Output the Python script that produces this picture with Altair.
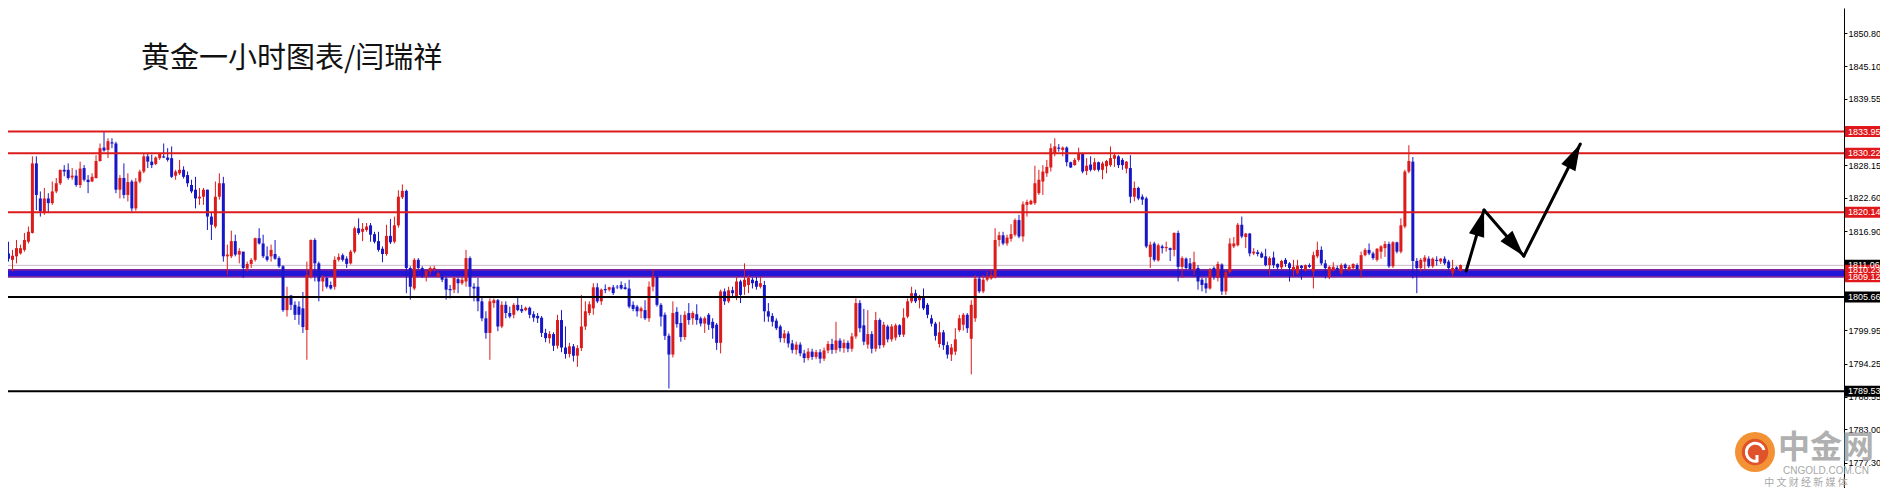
import math
import altair as alt
import pandas as pd

# ---------------- data ----------------
OPEN = [
    1813.1, 1812.0, 1812.6, 1813.1, 1813.7, 1815.1, 1816.6, 1828.5, 1822.5, 1820.0,
    1822.5, 1821.7, 1823.7, 1825.1, 1827.4, 1827.4, 1826.1, 1826.4, 1824.8, 1827.7,
    1825.7, 1825.4, 1826.0, 1828.9, 1831.2, 1830.8, 1832.1, 1831.9, 1824.0, 1826.0,
    1823.1, 1825.4, 1820.8, 1825.4, 1827.1, 1829.7, 1828.8, 1828.4, 1829.4, 1829.7,
    1829.5, 1829.4, 1826.4, 1826.8, 1827.4, 1826.5, 1824.8, 1824.0, 1822.5, 1822.8,
    1824.0, 1819.4, 1817.7, 1822.8, 1825.1, 1812.6, 1812.6, 1815.2, 1812.9, 1813.4,
    1810.5, 1811.3, 1812.0, 1815.7, 1814.8, 1812.6, 1812.6, 1813.0, 1812.3, 1810.9,
    1803.4, 1805.9, 1804.3, 1804.0, 1803.7, 1800.0, 1809.1, 1815.4, 1811.4, 1808.3,
    1808.9, 1807.7, 1807.4, 1812.0, 1812.8, 1812.2, 1811.4, 1813.4, 1817.4, 1816.8,
    1817.1, 1817.9, 1816.4, 1815.2, 1813.9, 1813.0, 1816.1, 1815.1, 1817.9, 1822.7,
    1823.8, 1810.6, 1807.1, 1812.0, 1810.6, 1809.1, 1810.0, 1810.4, 1809.1, 1809.1,
    1808.8, 1807.0, 1806.9, 1808.7, 1808.0, 1808.3, 1812.3, 1807.4, 1807.4, 1804.9,
    1802.0, 1799.5, 1804.6, 1805.1, 1800.6, 1804.3, 1802.9, 1802.6, 1804.3, 1803.6,
    1803.4, 1803.8, 1802.7, 1802.4, 1802.1, 1799.5, 1798.6, 1799.3, 1797.3, 1801.7,
    1797.0, 1795.9, 1797.2, 1795.6, 1796.9, 1800.6, 1802.9, 1803.7, 1807.3, 1804.9,
    1807.0, 1806.9, 1807.3, 1807.4, 1807.7, 1807.3, 1807.1, 1804.3, 1804.0, 1803.2,
    1803.4, 1802.0, 1807.4, 1809.1, 1804.3, 1802.6, 1799.0, 1795.8, 1803.1, 1801.2,
    1798.8, 1802.9, 1802.0, 1802.7, 1802.0, 1801.1, 1802.6, 1801.4, 1800.9, 1797.8,
    1806.6, 1804.9, 1806.8, 1805.7, 1808.3, 1807.4, 1807.7, 1808.6, 1808.4, 1807.4,
    1807.7, 1803.2, 1802.4, 1801.6, 1800.6, 1798.6, 1799.4, 1797.7, 1796.6, 1797.5,
    1796.0, 1795.2, 1796.3, 1795.4, 1796.2, 1795.1, 1796.5, 1797.6, 1796.6, 1798.2,
    1796.9, 1797.8, 1796.8, 1798.9, 1804.6, 1800.8, 1797.5, 1799.3, 1796.8, 1801.7,
    1797.4, 1800.6, 1798.4, 1798.7, 1800.8, 1799.2, 1802.3, 1804.9, 1806.3, 1805.1,
    1805.7, 1804.3, 1802.0, 1801.1, 1797.6, 1799.6, 1797.4, 1795.8, 1796.3, 1800.0,
    1800.9, 1802.6, 1798.5, 1802.0, 1808.8, 1806.6, 1808.6, 1808.8, 1809.1, 1815.4,
    1816.2, 1814.8, 1815.6, 1816.3, 1818.8, 1816.0, 1821.4, 1821.5, 1821.7, 1823.4,
    1825.4, 1826.8, 1827.8, 1830.2, 1831.2, 1830.8, 1831.2, 1828.7, 1828.2, 1829.1,
    1830.1, 1827.2, 1828.3, 1827.4, 1828.7, 1827.4, 1828.0, 1828.2, 1829.3, 1829.7,
    1829.1, 1827.6, 1827.7, 1822.8, 1824.3, 1822.8, 1822.5, 1812.5, 1814.8, 1811.9,
    1814.3, 1814.0, 1814.0, 1813.7, 1816.6, 1810.8, 1812.2, 1811.4, 1810.3, 1810.6,
    1808.6, 1808.0, 1807.1, 1810.6, 1808.9, 1811.2, 1806.6, 1809.9, 1814.3, 1814.5,
    1818.0, 1815.9, 1816.5, 1813.1, 1813.3, 1813.1, 1812.6, 1811.1, 1812.4, 1811.3,
    1810.7, 1812.0, 1811.4, 1810.3, 1809.7, 1811.0, 1810.3, 1811.1, 1810.0, 1812.6,
    1813.7, 1811.4, 1809.1, 1810.3, 1810.6, 1809.7, 1811.2, 1810.3, 1810.6, 1811.1,
    1810.3, 1812.8, 1813.7, 1813.1, 1812.0, 1813.4, 1814.0, 1814.7, 1810.9, 1815.0,
    1813.4, 1817.7, 1827.1, 1828.8, 1811.8, 1810.6, 1811.7, 1812.2, 1810.9, 1812.0,
    1811.7, 1812.2, 1811.7, 1809.7, 1810.7, 1810.1,
]
HIGH = [
    1815.1, 1813.7, 1815.4, 1814.6, 1816.6, 1817.7, 1829.7, 1829.7, 1823.7, 1824.3,
    1823.4, 1825.4, 1826.0, 1827.4, 1828.2, 1828.5, 1827.7, 1827.4, 1828.8, 1828.2,
    1826.5, 1826.8, 1829.9, 1831.9, 1833.9, 1832.8, 1832.8, 1832.2, 1826.5, 1828.5,
    1826.8, 1825.7, 1826.0, 1827.4, 1830.2, 1830.2, 1830.0, 1829.7, 1830.2, 1831.9,
    1831.1, 1831.4, 1827.4, 1829.1, 1828.0, 1827.1, 1825.7, 1826.2, 1824.3, 1824.3,
    1824.0, 1820.2, 1825.4, 1826.8, 1826.2, 1814.6, 1817.0, 1816.3, 1814.0, 1813.4,
    1811.7, 1812.3, 1815.8, 1817.4, 1816.3, 1814.3, 1814.6, 1815.4, 1812.6, 1811.1,
    1807.4, 1806.0, 1804.9, 1804.9, 1806.5, 1811.7, 1815.5, 1815.7, 1811.7, 1809.4,
    1809.1, 1808.3, 1812.6, 1813.1, 1813.1, 1812.6, 1813.7, 1817.7, 1819.1, 1818.3,
    1818.3, 1818.3, 1816.8, 1816.8, 1814.3, 1818.0, 1819.0, 1819.4, 1823.9, 1824.9,
    1824.0, 1810.9, 1812.3, 1812.3, 1810.9, 1810.3, 1810.9, 1811.0, 1810.0, 1809.5,
    1809.1, 1807.7, 1809.1, 1809.0, 1809.1, 1813.7, 1812.6, 1808.0, 1808.9, 1805.7,
    1803.2, 1805.4, 1805.4, 1805.3, 1804.9, 1804.9, 1804.0, 1804.6, 1805.7, 1804.3,
    1804.0, 1804.0, 1803.2, 1802.9, 1802.4, 1800.2, 1799.8, 1799.6, 1802.6, 1803.4,
    1800.6, 1797.8, 1797.6, 1797.4, 1806.0, 1804.9, 1804.9, 1808.0, 1808.0, 1807.1,
    1807.8, 1807.4, 1807.7, 1807.7, 1808.3, 1808.0, 1808.6, 1804.9, 1804.3, 1804.0,
    1805.1, 1808.3, 1810.3, 1809.4, 1804.6, 1803.0, 1799.4, 1804.9, 1803.9, 1802.6,
    1803.2, 1804.6, 1803.2, 1804.4, 1802.3, 1802.3, 1802.9, 1802.0, 1801.2, 1806.9,
    1807.1, 1807.4, 1807.4, 1809.1, 1808.6, 1811.4, 1809.4, 1809.0, 1809.1, 1809.1,
    1808.4, 1804.6, 1802.9, 1802.0, 1800.9, 1800.0, 1799.8, 1798.3, 1798.0, 1797.9,
    1796.6, 1796.9, 1796.8, 1796.6, 1796.7, 1797.0, 1798.1, 1798.5, 1801.4, 1798.6,
    1798.4, 1798.2, 1799.5, 1805.4, 1805.1, 1803.6, 1803.4, 1799.8, 1803.1, 1802.0,
    1801.4, 1800.9, 1801.0, 1801.1, 1801.0, 1803.7, 1805.4, 1807.4, 1806.9, 1806.0,
    1807.1, 1804.6, 1802.6, 1801.4, 1801.4, 1800.0, 1798.0, 1797.6, 1800.3, 1802.6,
    1802.9, 1802.9, 1805.1, 1809.4, 1809.1, 1809.4, 1810.0, 1810.3, 1817.4, 1816.8,
    1816.8, 1816.3, 1818.1, 1819.1, 1819.7, 1822.0, 1822.3, 1822.3, 1828.1, 1827.4,
    1828.2, 1829.1, 1831.9, 1832.8, 1831.8, 1831.4, 1831.4, 1828.8, 1829.4, 1831.2,
    1830.2, 1829.4, 1829.7, 1829.4, 1828.8, 1828.8, 1829.1, 1831.4, 1830.2, 1829.9,
    1829.4, 1828.9, 1829.9, 1825.4, 1824.5, 1823.2, 1822.8, 1815.1, 1815.1, 1814.8,
    1814.6, 1815.1, 1814.1, 1816.7, 1817.0, 1812.6, 1812.4, 1812.3, 1813.4, 1811.1,
    1808.9, 1808.9, 1810.6, 1810.9, 1811.7, 1811.4, 1810.3, 1815.7, 1815.9, 1818.3,
    1819.4, 1816.6, 1816.6, 1814.0, 1813.7, 1813.4, 1813.9, 1812.6, 1813.4, 1811.4,
    1812.0, 1812.3, 1811.6, 1812.0, 1812.0, 1811.1, 1811.2, 1811.4, 1813.4, 1815.1,
    1814.3, 1812.0, 1811.0, 1811.6, 1811.0, 1811.4, 1811.4, 1811.1, 1811.4, 1811.4,
    1813.4, 1814.0, 1814.8, 1813.4, 1814.0, 1814.5, 1815.2, 1815.1, 1815.2, 1815.1,
    1819.1, 1827.4, 1831.6, 1829.6, 1812.3, 1812.3, 1812.8, 1812.6, 1812.4, 1812.6,
    1812.3, 1812.6, 1812.0, 1812.0, 1810.9, 1811.2,
]
LOW = [
    1811.7, 1810.0, 1811.4, 1812.9, 1813.4, 1814.8, 1816.5, 1820.5, 1819.4, 1819.7,
    1820.0, 1821.4, 1823.4, 1824.8, 1826.3, 1825.7, 1825.7, 1824.5, 1824.3, 1825.4,
    1823.4, 1825.3, 1825.9, 1828.8, 1830.5, 1829.4, 1831.1, 1823.4, 1822.5, 1822.5,
    1822.0, 1820.3, 1820.4, 1825.1, 1826.8, 1827.7, 1827.7, 1828.2, 1829.1, 1829.4,
    1828.8, 1826.0, 1825.7, 1826.5, 1825.9, 1824.5, 1823.4, 1820.8, 1821.4, 1821.4,
    1817.1, 1815.4, 1817.4, 1822.3, 1811.7, 1809.4, 1812.3, 1812.6, 1811.4, 1808.9,
    1810.0, 1810.6, 1811.7, 1814.6, 1812.3, 1811.7, 1811.7, 1812.0, 1810.6, 1803.1,
    1802.3, 1803.4, 1801.7, 1800.9, 1799.5, 1794.9, 1808.8, 1808.3, 1804.9, 1806.6,
    1807.1, 1806.9, 1806.9, 1811.7, 1811.7, 1810.6, 1811.2, 1813.1, 1816.3, 1815.2,
    1816.8, 1815.1, 1814.8, 1813.4, 1811.6, 1812.7, 1814.7, 1814.8, 1817.5, 1822.4,
    1806.3, 1805.2, 1806.8, 1810.3, 1808.9, 1808.3, 1809.4, 1810.0, 1809.0, 1808.2,
    1805.2, 1805.4, 1806.3, 1806.3, 1807.7, 1807.4, 1805.7, 1804.9, 1803.2, 1801.5,
    1798.5, 1794.9, 1803.8, 1799.8, 1800.3, 1802.0, 1802.0, 1802.0, 1803.2, 1802.9,
    1803.2, 1802.0, 1801.4, 1801.2, 1798.8, 1797.9, 1797.7, 1796.4, 1796.8, 1796.2,
    1795.1, 1795.3, 1794.6, 1793.7, 1796.4, 1800.0, 1802.5, 1802.6, 1804.6, 1804.3,
    1806.3, 1806.6, 1806.0, 1807.0, 1806.9, 1806.9, 1803.7, 1803.2, 1802.3, 1802.0,
    1801.7, 1801.4, 1806.6, 1804.0, 1800.6, 1798.3, 1790.0, 1795.3, 1800.4, 1798.0,
    1798.3, 1800.9, 1800.9, 1800.9, 1800.6, 1799.5, 1800.0, 1798.5, 1796.6, 1796.0,
    1804.3, 1804.6, 1805.7, 1805.1, 1804.6, 1806.0, 1806.3, 1807.1, 1806.9, 1807.1,
    1801.4, 1801.4, 1800.6, 1800.0, 1797.9, 1797.8, 1797.0, 1796.0, 1795.8, 1795.5,
    1794.4, 1794.8, 1794.9, 1795.0, 1794.3, 1794.7, 1796.0, 1795.9, 1796.0, 1796.3,
    1796.1, 1796.2, 1796.3, 1798.5, 1799.6, 1797.4, 1796.8, 1796.0, 1796.3, 1796.8,
    1797.0, 1797.9, 1798.0, 1798.2, 1798.8, 1798.8, 1802.0, 1804.6, 1804.6, 1803.7,
    1803.4, 1802.0, 1800.6, 1798.2, 1797.0, 1796.6, 1795.1, 1794.7, 1795.7, 1799.7,
    1799.9, 1799.5, 1792.4, 1801.4, 1806.3, 1806.3, 1808.3, 1808.6, 1808.8, 1814.3,
    1814.5, 1814.4, 1815.1, 1816.0, 1815.7, 1815.1, 1819.4, 1821.4, 1821.4, 1823.1,
    1823.1, 1826.2, 1827.1, 1829.7, 1830.5, 1829.7, 1828.0, 1827.7, 1828.1, 1828.8,
    1826.8, 1826.5, 1827.1, 1827.2, 1827.1, 1825.8, 1826.8, 1827.9, 1827.9, 1827.7,
    1827.4, 1826.8, 1821.7, 1822.0, 1822.2, 1821.4, 1814.0, 1810.6, 1811.7, 1811.7,
    1813.1, 1813.4, 1811.8, 1812.6, 1808.3, 1808.9, 1810.3, 1810.3, 1809.4, 1806.9,
    1806.6, 1806.3, 1806.9, 1808.6, 1808.3, 1806.0, 1806.0, 1809.6, 1814.0, 1814.3,
    1815.7, 1814.0, 1812.6, 1812.8, 1812.6, 1812.3, 1810.9, 1809.4, 1810.6, 1810.3,
    1810.3, 1810.8, 1808.3, 1809.1, 1809.4, 1808.6, 1810.0, 1810.6, 1807.1, 1812.3,
    1811.1, 1808.8, 1808.7, 1810.0, 1809.9, 1809.4, 1810.3, 1810.0, 1810.3, 1810.0,
    1808.9, 1812.6, 1812.8, 1812.0, 1811.7, 1812.2, 1812.5, 1810.6, 1810.6, 1813.1,
    1813.1, 1817.4, 1826.8, 1808.8, 1806.3, 1810.0, 1810.3, 1810.6, 1810.6, 1811.0,
    1811.3, 1811.1, 1810.3, 1809.1, 1810.0, 1810.0,
]
CLOSE = [
    1812.2, 1812.7, 1814.0, 1814.0, 1815.4, 1816.8, 1828.5, 1823.1, 1820.3, 1822.5,
    1821.7, 1823.7, 1825.1, 1827.4, 1827.1, 1826.0, 1826.4, 1824.8, 1827.6, 1825.7,
    1825.3, 1826.2, 1828.9, 1831.1, 1830.7, 1832.3, 1831.9, 1824.0, 1826.0, 1823.1,
    1825.3, 1820.8, 1825.4, 1827.1, 1829.7, 1828.8, 1828.2, 1829.5, 1830.1, 1829.5,
    1829.1, 1826.2, 1827.1, 1827.4, 1826.2, 1825.1, 1823.7, 1822.5, 1822.8, 1824.0,
    1819.4, 1818.0, 1822.8, 1825.1, 1812.6, 1812.9, 1815.2, 1812.9, 1813.5, 1810.6,
    1811.3, 1812.0, 1815.7, 1814.8, 1812.6, 1812.0, 1813.7, 1812.2, 1810.9, 1803.4,
    1805.7, 1804.3, 1802.6, 1802.6, 1800.5, 1809.4, 1815.4, 1811.4, 1808.3, 1808.9,
    1807.4, 1807.1, 1812.0, 1812.5, 1812.0, 1811.3, 1813.4, 1817.4, 1816.6, 1817.3,
    1817.7, 1816.3, 1815.1, 1813.7, 1813.0, 1816.1, 1815.0, 1817.9, 1822.8, 1823.8,
    1810.6, 1807.4, 1812.0, 1810.6, 1810.0, 1810.1, 1810.6, 1810.6, 1809.7, 1808.6,
    1806.9, 1806.8, 1808.9, 1808.0, 1808.6, 1812.3, 1807.4, 1807.1, 1804.9, 1802.0,
    1799.5, 1804.9, 1805.1, 1800.6, 1804.3, 1802.9, 1802.3, 1804.3, 1803.4, 1803.2,
    1803.8, 1802.6, 1802.1, 1802.0, 1799.5, 1798.6, 1799.3, 1797.3, 1801.7, 1797.0,
    1795.9, 1797.2, 1795.6, 1796.9, 1800.6, 1803.2, 1804.4, 1807.3, 1804.9, 1806.9,
    1806.8, 1807.3, 1806.3, 1807.3, 1807.1, 1807.0, 1804.0, 1803.6, 1803.2, 1803.7,
    1802.0, 1807.4, 1809.1, 1804.3, 1802.3, 1799.0, 1795.8, 1802.9, 1801.0, 1798.8,
    1802.6, 1801.7, 1802.9, 1801.7, 1801.1, 1802.0, 1800.9, 1800.3, 1797.8, 1806.6,
    1804.9, 1806.8, 1806.3, 1808.3, 1806.0, 1808.6, 1808.9, 1808.0, 1807.4, 1808.0,
    1803.2, 1802.3, 1801.4, 1800.3, 1798.6, 1799.4, 1797.7, 1796.6, 1797.5, 1796.0,
    1795.2, 1796.3, 1795.4, 1796.2, 1795.1, 1796.5, 1797.6, 1796.6, 1798.2, 1796.9,
    1797.8, 1796.8, 1798.9, 1804.6, 1800.3, 1798.0, 1799.3, 1796.8, 1801.7, 1797.4,
    1800.9, 1798.4, 1800.6, 1800.8, 1799.2, 1802.1, 1804.9, 1806.3, 1804.9, 1805.7,
    1803.7, 1802.6, 1801.1, 1799.0, 1799.6, 1797.4, 1795.8, 1797.0, 1798.4, 1802.0,
    1802.6, 1800.3, 1804.3, 1808.8, 1806.6, 1808.6, 1809.1, 1809.4, 1815.4, 1816.2,
    1814.8, 1815.8, 1816.4, 1818.8, 1816.0, 1821.5, 1821.9, 1822.1, 1825.1, 1825.7,
    1827.1, 1827.9, 1831.1, 1831.4, 1831.0, 1831.2, 1828.7, 1827.8, 1829.1, 1830.2,
    1827.1, 1828.1, 1827.4, 1828.7, 1827.4, 1828.5, 1828.9, 1829.4, 1829.9, 1828.2,
    1828.2, 1828.8, 1822.8, 1824.3, 1822.5, 1822.3, 1814.3, 1814.6, 1812.0, 1814.5,
    1814.0, 1814.2, 1813.7, 1816.6, 1810.8, 1812.3, 1810.6, 1810.4, 1811.6, 1808.3,
    1807.7, 1807.1, 1810.3, 1810.0, 1811.3, 1806.6, 1809.9, 1814.8, 1814.8, 1818.0,
    1816.0, 1816.5, 1813.1, 1813.4, 1813.0, 1812.4, 1811.1, 1812.3, 1811.1, 1810.7,
    1811.8, 1811.3, 1810.6, 1810.8, 1811.0, 1810.6, 1811.1, 1810.8, 1812.8, 1813.7,
    1811.4, 1810.6, 1810.8, 1810.8, 1810.3, 1811.1, 1810.6, 1810.8, 1811.3, 1810.4,
    1812.8, 1813.7, 1813.1, 1812.3, 1813.9, 1814.3, 1814.7, 1810.9, 1815.0, 1813.4,
    1817.9, 1827.1, 1828.9, 1811.8, 1810.6, 1812.0, 1812.4, 1810.9, 1812.2, 1811.8,
    1812.2, 1811.4, 1810.6, 1810.6, 1810.4, 1811.1,
]

RESIST_LEVELS = [1833.95, 1830.22, 1820.14]
SUPPORT_LEVELS = [1805.66, 1789.53]
BAND_EDGES = [1808.95, 1810.45]
BAND_CORE = [1809.25, 1810.15]
THIN_LEVEL = 1811.06
AXIS_TICKS = [1856.50, 1850.80, 1845.10, 1839.55, 1833.85, 1828.15, 1822.60, 1816.90,
              1811.20, 1805.50, 1799.95, 1794.25, 1788.55, 1783.00, 1777.30, 1771.60]
TAG_VALUES = [1811.06, 1809.12, 1810.23, 1833.95, 1830.22, 1820.14, 1805.66, 1789.53]
TAG_KIND = ["black", "red", "red", "red", "red", "red", "black", "black"]
ARROW_X = [366.4, 370.9, 380.9, 395.1]
ARROW_Y = [1810.09, 1820.52, 1812.65, 1831.81]
TITLE = "黄金一小时图表/闫瑞祥"
LOGO = ["中金网", "CNGOLD.COM.CN", "中  文  财  经  新  媒  体"]

# ---------------- styling ----------------
RED = "#dc1b1b"
BLUE = "#1717c8"
W, H = 1836, 480
XD = [1.125, 1.125 + W / 4.0]
YD = [1772.97, 1855.08]
xs = alt.Scale(domain=XD, nice=False, zero=False)
ys = alt.Scale(domain=YD, nice=False, zero=False)

n = len(OPEN)
assert len(HIGH) == n and len(LOW) == n and len(CLOSE) == n, (len(OPEN), len(HIGH), len(LOW), len(CLOSE))
candles = pd.DataFrame({
    "i": list(range(n)), "open": OPEN, "high": HIGH, "low": LOW, "close": CLOSE,
})
candles["dir"] = ["up" if c >= o else "down" for o, c in zip(OPEN, CLOSE)]
col = alt.Color("dir:N", scale=alt.Scale(domain=["up", "down"], range=[RED, BLUE]), legend=None)

yaxis = alt.Axis(orient="right", values=AXIS_TICKS, format=".2f", grid=False, title=None,
                 domainColor="black", domainWidth=1, tickColor="black", tickSize=3,
                 labelColor="black", labelFont="Liberation Sans", labelFontSize=9,
                 labelPadding=1, labelOverlap=False, labelFlush=False)


def Y(field):
    return alt.Y(field, scale=ys, axis=yaxis)


def X(field):
    return alt.X(field, scale=xs, axis=None)


wicks = alt.Chart(candles).mark_rule(strokeWidth=1, clip=True).encode(
    x=X("i:Q"), y=Y("low:Q"), y2="high:Q", color=col)
bodies = alt.Chart(candles).mark_bar(size=3, clip=True).encode(
    x=X("i:Q"), y=Y("open:Q"), y2="close:Q", color=col)

band_df = pd.DataFrame({"lo": [BAND_EDGES[0], BAND_CORE[0]], "hi": [BAND_EDGES[1], BAND_CORE[1]],
                        "c": ["#7a22a0", "#2416d6"]})
band = alt.Chart(band_df).mark_rect().encode(
    x=alt.value(0), x2=alt.value(W),
    y=Y("lo:Q"), y2="hi:Q",
    color=alt.Color("c:N", scale=None),
)
thin = alt.Chart(pd.DataFrame({"p": [THIN_LEVEL]})).mark_rule(strokeWidth=1, color="#cbbccb").encode(
    x=alt.value(0), x2=alt.value(W), y=Y("p:Q"))

lv_df = pd.DataFrame({"p": RESIST_LEVELS + SUPPORT_LEVELS,
                      "c": [RED] * len(RESIST_LEVELS) + ["#000000"] * len(SUPPORT_LEVELS)})
levels = alt.Chart(lv_df).mark_rule(strokeWidth=2).encode(
    x=alt.value(0), x2=alt.value(W), y=Y("p:Q"),
    color=alt.Color("c:N", scale=None))

# arrows
kx = W / (XD[1] - XD[0])
ky = H / (YD[1] - YD[0])
seg_rows, head_rows = [], []
for j in range(1, len(ARROW_X)):
    seg_rows.append({"x": ARROW_X[j - 1], "y": ARROW_Y[j - 1], "x2": ARROW_X[j], "y2": ARROW_Y[j]})
    dx = (ARROW_X[j] - ARROW_X[j - 1]) * kx
    dy = (ARROW_Y[j] - ARROW_Y[j - 1]) * ky
    head_rows.append({"x": ARROW_X[j], "y": ARROW_Y[j], "ang": math.degrees(math.atan2(dx, dy)) % 360})
segs = alt.Chart(pd.DataFrame(seg_rows)).mark_rule(strokeWidth=3, color="black", strokeCap="round").encode(
    x=X("x:Q"), y=Y("y:Q"), x2="x2:Q", y2="y2:Q")
heads = alt.Chart(pd.DataFrame(head_rows)).mark_point(
    shape="M0,0L0.6,2L-0.6,2Z", filled=True, size=700, color="black", opacity=1).encode(
    x=X("x:Q"), y=Y("y:Q"), angle=alt.Angle("ang:Q", scale=None))

# price tags on the axis
tag_df = pd.DataFrame({"p": TAG_VALUES, "t": [f"{v:.2f}" for v in TAG_VALUES],
                       "c": ["#000000" if k == "black" else "#e0181c" for k in TAG_KIND]})
tag_box = alt.Chart(tag_df).mark_tick(orient="horizontal", size=40, thickness=11, opacity=1).encode(
    x=alt.value(W + 21), y=Y("p:Q"), color=alt.Color("c:N", scale=None))
tag_txt = alt.Chart(tag_df).mark_text(align="left", baseline="middle", color="white",
                                      font="Liberation Sans", fontSize=9).encode(
    x=alt.value(W + 4), y=Y("p:Q"), text="t:N")

one = pd.DataFrame({"k": [0]})
title = alt.Chart(one).mark_text(text=TITLE, align="left", baseline="middle", fontSize=29,
                                 font="Noto Sans CJK SC", color="#111111").encode(
    x=alt.value(133), y=alt.value(51))

LX, LY = 1747, 444
logo_ring = alt.Chart(one).mark_point(shape="circle", filled=True, size=1600, color="#f39234", opacity=1).encode(
    x=alt.value(LX), y=alt.value(LY))
logo_core = alt.Chart(one).mark_point(shape="circle", filled=True, size=700, color="#e0532a", opacity=1).encode(
    x=alt.value(LX), y=alt.value(LY))
logo_swirl = alt.Chart(one).mark_point(shape="M0.9,-0.2A0.9,0.9,0,1,0,0.2,0.9L0.2,0.3",
                                       filled=False, size=400, color="white", strokeWidth=3, opacity=1).encode(
    x=alt.value(LX), y=alt.value(LY))
logo_big = alt.Chart(one).mark_text(text=LOGO[0], align="center", baseline="middle", fontSize=32,
                                    fontWeight="bold", font="Noto Sans CJK SC", color="#a3a3a3",
                                    opacity=0.85).encode(x=alt.value(1818), y=alt.value(440))
logo_en = alt.Chart(one).mark_text(text=LOGO[1], align="center", baseline="middle", fontSize=10,
                                   font="Liberation Sans", color="#a8a8a8").encode(
    x=alt.value(1818), y=alt.value(463))
logo_cn = alt.Chart(one).mark_text(text=LOGO[2], align="center", baseline="middle", fontSize=10,
                                   font="Noto Sans CJK SC", color="#a8a8a8").encode(
    x=alt.value(1798), y=alt.value(475))

chart = alt.layer(
    band, thin, wicks, bodies, levels, segs, heads,
    logo_ring, logo_core, logo_swirl, logo_big, logo_en, logo_cn,
    tag_box, tag_txt, title,
).properties(
    width=W, height=H,
    autosize=alt.AutoSizeParams(type="none"),
    padding={"left": 0, "top": 0, "right": 1872 - W, "bottom": 0},
    background="white",
).configure_view(strokeWidth=0)

chart.save("out.html", embed_options={"renderer": "svg", "actions": False})
